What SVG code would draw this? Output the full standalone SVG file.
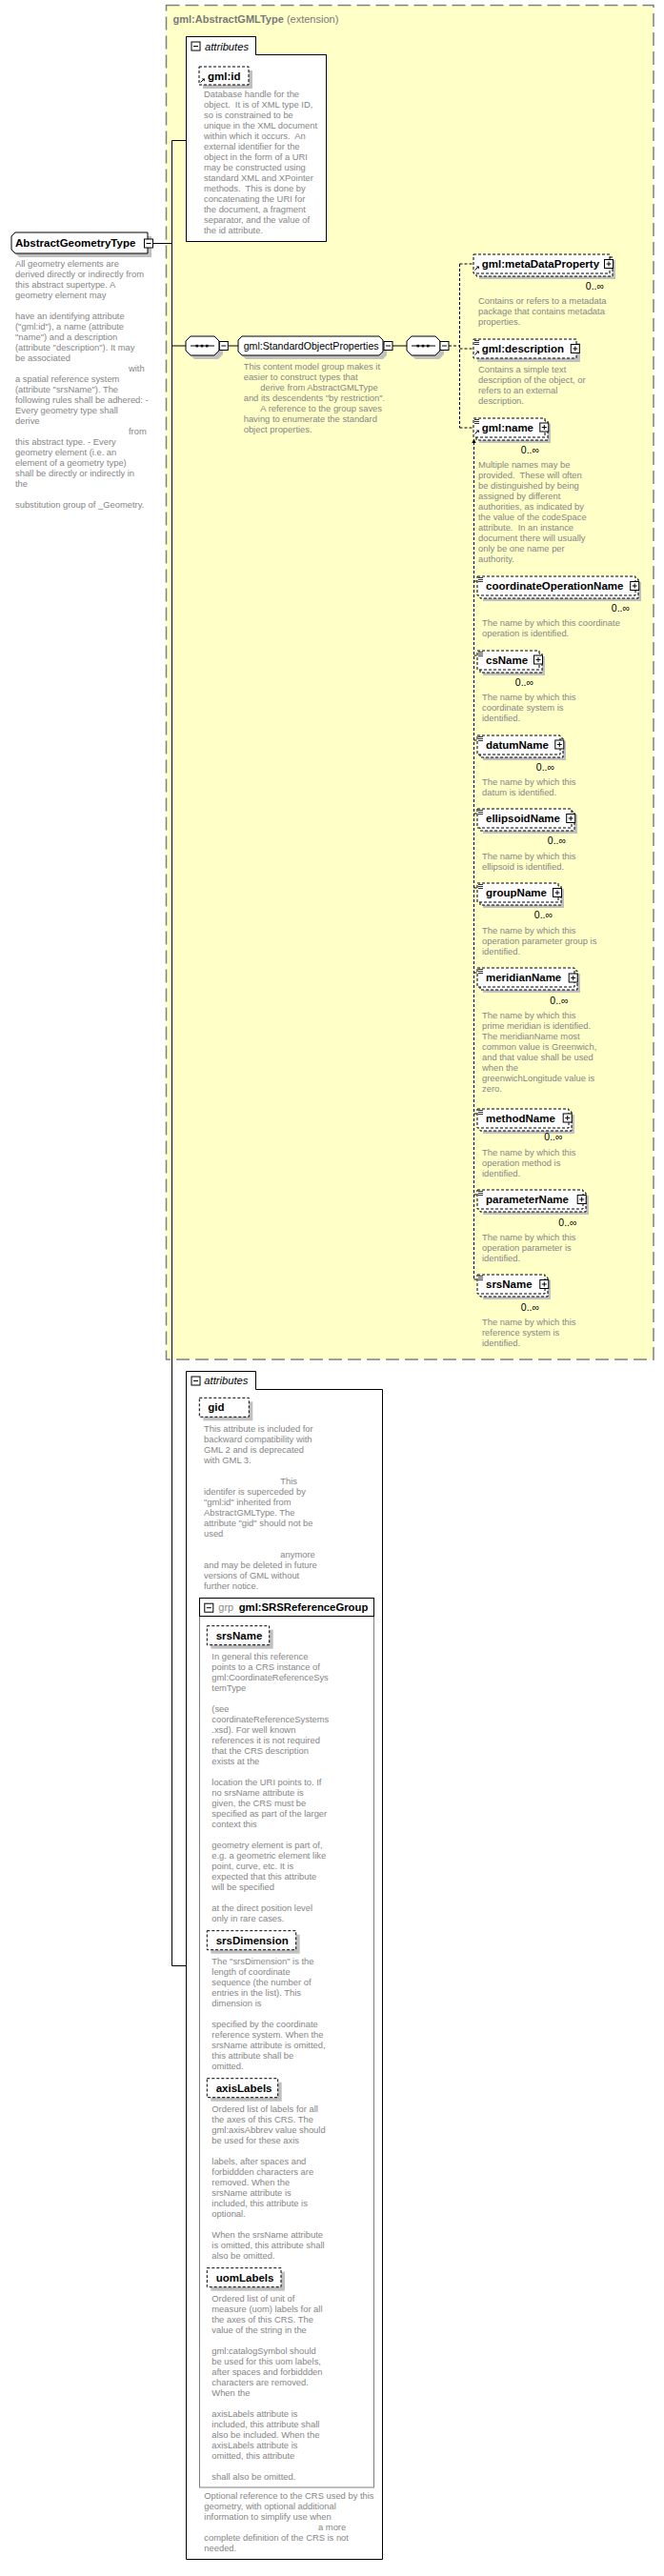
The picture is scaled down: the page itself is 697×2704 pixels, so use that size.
<svg xmlns="http://www.w3.org/2000/svg" xmlns:xlink="http://www.w3.org/1999/xlink" width="697" height="2704" viewBox="0 0 697 2704">
<style>
text{font-family:"Liberation Sans",Arial,sans-serif}
.desc{font-size:9.4px;fill:#868686}
.el{font-size:11.5px;font-weight:bold;fill:#000}
.nm{font-size:10.6px;fill:#000}
.mult{font-size:10.5px;fill:#000}
.hdr{font-size:11px;fill:#7a7a7a}
.it{font-size:11.2px;font-style:italic;fill:#000}
.solid{fill:#fff;stroke:#000;stroke-width:1}
.dash{fill:#fff;stroke:#000;stroke-width:1;stroke-dasharray:3 2}
.sh{fill:#c0c0c0}
.ln{stroke:#000;stroke-width:1;fill:none}
.dln{stroke:#000;stroke-width:1;fill:none;stroke-dasharray:3 2}
.frame{fill:none;stroke:#000;stroke-width:1}
</style>
<defs>
<g id="mn"><rect x="-4.5" y="-4.5" width="9" height="9" fill="#fff" stroke="#000"/><path d="M-2.5,0H2.5" stroke="#000"/></g>
<g id="pl"><rect x="-4.5" y="-4.5" width="9" height="9" fill="#fff" stroke="#000"/><path d="M-2.5,0H2.5M0,-2.5V2.5" stroke="#000"/></g>
<g id="eq"><path d="M0,0.5h5M0,2.5h5M0,4.5h5" stroke="#000" stroke-width="0.8"/></g>
<g id="ar"><path d="M0.5,5.5L3.5,2.5" stroke="#000" stroke-width="1"/><path d="M1.8,1.5H4.8V4.5Z" fill="#000"/></g>
<g id="seq">
<path class="sh" d="M9,4H34L39,9V19L34,24H9L4,19V9Z"/>
<path class="solid" d="M5,0H30L35,5V15L30,20H5L0,15V5Z"/>
<path d="M5,10H30" stroke="#000"/>
<rect x="10.5" y="8.8" width="2.6" height="2.6" fill="#000"/><rect x="15.7" y="8.8" width="2.6" height="2.6" fill="#000"/><rect x="20.9" y="8.8" width="2.6" height="2.6" fill="#000"/>
</g>
</defs>
<rect width="697" height="2704" fill="#fff"/>

<g id="extension-box">
<rect x="174.5" y="5.5" width="511.5" height="1421.5" fill="#FFFFC8" stroke="#808080" stroke-width="1.5" stroke-dasharray="14 6"/>
<text x="181.5" y="23.5" class="hdr"><tspan font-weight="bold">gml:AbstractGMLType</tspan> (extension)</text>
</g>

<g id="connectors">
<path class="ln" d="M161,255.5H180.5M180.5,147.5V2063.5M180.5,147.5H195M180.5,363H195M180.5,2063.5H196M239.5,363H250M412,363H427"/>
<path class="dln" d="M471,363H482.5M482.5,277V449M482.5,277H497M482.5,366H497M482.5,449H497"/>
<path class="dln" d="M497.5,464V1343M497.5,610H501M497.5,688H501M497.5,777H501M497.5,854H501M497.5,932H501M497.5,1021H501M497.5,1169H501M497.5,1254H501M497.5,1343H501"/>
<path d="M497.5,460.5L495.3,465L499.7,465Z" fill="#000"/>
</g>

<g id="AbstractGeometryType">
<path class="sh" d="M20,248H159V270H20L16,266V252Z"/>
<path class="solid" d="M16,244H155V266H16L12,262V248Z"/>
<text x="16" y="259" class="el">AbstractGeometryType</text>
<use xlink:href="#mn" x="156" y="255.5"/>
<text class="desc"><tspan x="16" y="280">All geometry elements are</tspan><tspan x="16" y="291">derived directly or indirectly from</tspan><tspan x="16" y="302">this abstract supertype. A</tspan><tspan x="16" y="313">geometry element may</tspan><tspan x="16" y="335">have an identifying attribute</tspan><tspan x="16" y="346">("gml:id"), a name (attribute</tspan><tspan x="16" y="357">"name") and a description</tspan><tspan x="16" y="368">(attribute "description"). It may</tspan><tspan x="16" y="379">be associated</tspan><tspan x="135" y="390">with</tspan><tspan x="16" y="401">a spatial reference system</tspan><tspan x="16" y="412">(attribute "srsName"). The</tspan><tspan x="16" y="423">following rules shall be adhered: -</tspan><tspan x="16" y="434">Every geometry type shall</tspan><tspan x="16" y="445">derive</tspan><tspan x="135" y="456">from</tspan><tspan x="16" y="467">this abstract type. - Every</tspan><tspan x="16" y="478">geometry element (i.e. an</tspan><tspan x="16" y="489">element of a geometry type)</tspan><tspan x="16" y="500">shall be directly or indirectly in</tspan><tspan x="16" y="511">the</tspan><tspan x="16" y="533">substitution group of _Geometry.</tspan></text>
</g>

<g id="attributes-AbstractGMLType">
<path class="frame" d="M195.5,38.5H268.5V57.5H342.5V253.5H195.5Z" fill="#fff"/>
<path d="M195.5,38.5H268.5V57.5H342.5V253.5H195.5Z" fill="#fff" stroke="#000"/>
<use xlink:href="#mn" x="205.5" y="48.5"/>
<text x="215" y="52.5" class="it">attributes</text>
<rect class="sh" x="213" y="74" width="52" height="19"/>
<rect class="dash" x="209" y="70" width="52" height="19"/>
<use xlink:href="#ar" x="210" y="81"/>
<text x="218" y="83.5" class="el">gml:id</text>
<text class="desc"><tspan x="214" y="102">Database handle for the</tspan><tspan x="214" y="113">object.&#160; It is of XML type ID,</tspan><tspan x="214" y="124">so is constrained to be</tspan><tspan x="214" y="135">unique in the XML document</tspan><tspan x="214" y="146">within which it occurs.&#160; An</tspan><tspan x="214" y="157">external identifier for the</tspan><tspan x="214" y="168">object in the form of a URI</tspan><tspan x="214" y="179">may be constructed using</tspan><tspan x="214" y="190">standard XML and XPointer</tspan><tspan x="214" y="201">methods.&#160; This is done by</tspan><tspan x="214" y="212">concatenating the URI for</tspan><tspan x="214" y="223">the document, a fragment</tspan><tspan x="214" y="234">separator, and the value of</tspan><tspan x="214" y="245">the id attribute.</tspan></text>
</g>

<g id="sequence-1">
<use xlink:href="#seq" x="195" y="353"/>
<use xlink:href="#mn" x="234.8" y="363"/>
</g>

<g id="StandardObjectProperties">
<path class="sh" d="M258,357H402L406,361V373L402,377H258L254,373V361Z"/>
<path class="solid" d="M254,353H398L402,357V369L398,373H254L250,369V357Z"/>
<text x="255.7" y="366.5" class="nm">gml:StandardObjectProperties</text>
<use xlink:href="#mn" x="407.5" y="363"/>
<text class="desc"><tspan x="255.7" y="388">This content model group makes it</tspan><tspan x="255.7" y="399">easier to construct types that</tspan><tspan x="273.3" y="410">derive from AbstractGMLType</tspan><tspan x="255.7" y="421">and its descendents "by restriction".</tspan><tspan x="273.3" y="432">A reference to the group saves</tspan><tspan x="255.7" y="443">having to enumerate the standard</tspan><tspan x="255.7" y="454">object properties.</tspan></text>
</g>

<g id="sequence-2">
<use xlink:href="#seq" x="427" y="353"/>
<use xlink:href="#mn" x="466.5" y="363"/>
</g>

<g id="metaDataProperty">
<rect class="sh" x="503" y="273" width="143" height="20"/>
<rect class="dash" x="500" y="270" width="143" height="20"/>
<rect class="dash" x="497" y="267" width="143" height="20"/>
<use xlink:href="#ar" x="498" y="278"/>
<text x="505.7" y="280.5" class="el">gml:metaDataProperty</text>
<use xlink:href="#pl" x="639" y="277"/>
<text x="634" y="304" class="mult" text-anchor="end">0..∞</text>
<text class="desc"><tspan x="502" y="318.5">Contains or refers to a metadata</tspan><tspan x="502" y="329.5">package that contains metadata</tspan><tspan x="502" y="340.5">properties.</tspan></text>
</g>

<g id="description">
<rect class="sh" x="501" y="360" width="108" height="20"/>
<rect class="dash" x="497" y="356" width="108" height="20"/>
<use xlink:href="#eq" x="498" y="357"/>
<use xlink:href="#ar" x="498" y="367"/>
<text x="505.7" y="369.5" class="el">gml:description</text>
<use xlink:href="#pl" x="603.8" y="366"/>
<text class="desc"><tspan x="502" y="391">Contains a simple text</tspan><tspan x="502" y="402">description of the object, or</tspan><tspan x="502" y="413">refers to an external</tspan><tspan x="502" y="424">description.</tspan></text>
</g>

<g id="name">
<rect class="sh" x="503" y="445" width="75" height="20"/>
<rect class="dash" x="500" y="442" width="75" height="20"/>
<rect class="dash" x="497" y="439" width="75" height="20"/>
<use xlink:href="#eq" x="498" y="440"/>
<use xlink:href="#ar" x="498" y="450"/>
<text x="505.7" y="452.5" class="el">gml:name</text>
<use xlink:href="#pl" x="571.3" y="448.5"/>
<text x="566" y="476" class="mult" text-anchor="end">0..∞</text>
<text class="desc"><tspan x="502" y="491">Multiple names may be</tspan><tspan x="502" y="502">provided.&#160; These will often</tspan><tspan x="502" y="513">be distinguished by being</tspan><tspan x="502" y="524">assigned by different</tspan><tspan x="502" y="535">authorities, as indicated by</tspan><tspan x="502" y="546">the value of the codeSpace</tspan><tspan x="502" y="557">attribute.&#160; In an instance</tspan><tspan x="502" y="568">document there will usually</tspan><tspan x="502" y="579">only be one name per</tspan><tspan x="502" y="590">authority.</tspan></text>
</g>

<g id="coordinateOperationName">
<rect class="sh" x="507" y="611" width="166" height="20"/>
<rect class="dash" x="504" y="608" width="166" height="20"/>
<rect class="dash" x="501" y="605" width="166" height="20"/>
<use xlink:href="#eq" x="502" y="606"/>
<text x="510" y="618.5" class="el">coordinateOperationName</text>
<use xlink:href="#pl" x="666.2" y="615"/>
<text x="661" y="642" class="mult" text-anchor="end">0..∞</text>
<text class="desc"><tspan x="506" y="657">The name by which this coordinate</tspan><tspan x="506" y="668">operation is identified.</tspan></text>
</g>

<g id="csName">
<rect class="sh" x="507" y="689" width="65" height="20"/>
<rect class="dash" x="504" y="686" width="65" height="20"/>
<rect class="dash" x="501" y="683" width="65" height="20"/>
<use xlink:href="#eq" x="502" y="684"/>
<text x="510" y="696.5" class="el">csName</text>
<use xlink:href="#pl" x="565" y="692.5"/>
<text x="560" y="720" class="mult" text-anchor="end">0..∞</text>
<text class="desc"><tspan x="506" y="735">The name by which this</tspan><tspan x="506" y="746">coordinate system is</tspan><tspan x="506" y="757">identified.</tspan></text>
</g>

<g id="datumName">
<rect class="sh" x="507" y="778" width="87" height="20"/>
<rect class="dash" x="504" y="775" width="87" height="20"/>
<rect class="dash" x="501" y="772" width="87" height="20"/>
<use xlink:href="#eq" x="502" y="773"/>
<text x="510" y="785.5" class="el">datumName</text>
<use xlink:href="#pl" x="587.3" y="781.5"/>
<text x="582" y="809" class="mult" text-anchor="end">0..∞</text>
<text class="desc"><tspan x="506" y="823.5">The name by which this</tspan><tspan x="506" y="834.5">datum is identified.</tspan></text>
</g>

<g id="ellipsoidName">
<rect class="sh" x="507" y="855" width="99" height="20"/>
<rect class="dash" x="504" y="852" width="99" height="20"/>
<rect class="dash" x="501" y="849" width="99" height="20"/>
<use xlink:href="#eq" x="502" y="850"/>
<text x="510" y="862.5" class="el">ellipsoidName</text>
<use xlink:href="#pl" x="599.2" y="859"/>
<text x="594" y="886" class="mult" text-anchor="end">0..∞</text>
<text class="desc"><tspan x="506" y="901.5">The name by which this</tspan><tspan x="506" y="912.5">ellipsoid is identified.</tspan></text>
</g>

<g id="groupName">
<rect class="sh" x="507" y="933" width="85" height="20"/>
<rect class="dash" x="504" y="930" width="85" height="20"/>
<rect class="dash" x="501" y="927" width="85" height="20"/>
<use xlink:href="#eq" x="502" y="928"/>
<text x="510" y="940.5" class="el">groupName</text>
<use xlink:href="#pl" x="585" y="937"/>
<text x="580" y="964" class="mult" text-anchor="end">0..∞</text>
<text class="desc"><tspan x="506" y="980">The name by which this</tspan><tspan x="506" y="991">operation parameter group is</tspan><tspan x="506" y="1002">identified.</tspan></text>
</g>

<g id="meridianName">
<rect class="sh" x="507" y="1022" width="102" height="20"/>
<rect class="dash" x="504" y="1019" width="102" height="20"/>
<rect class="dash" x="501" y="1016" width="102" height="20"/>
<use xlink:href="#eq" x="502" y="1017"/>
<text x="510" y="1029.5" class="el">meridianName</text>
<use xlink:href="#pl" x="601.7" y="1026.5"/>
<text x="596.5" y="1053.5" class="mult" text-anchor="end">0..∞</text>
<text class="desc"><tspan x="506" y="1068.5">The name by which this</tspan><tspan x="506" y="1079.5">prime meridian is identified.</tspan><tspan x="506" y="1090.5">The meridianName most</tspan><tspan x="506" y="1101.5">common value is Greenwich,</tspan><tspan x="506" y="1112.5">and that value shall be used</tspan><tspan x="506" y="1123.5">when the</tspan><tspan x="506" y="1134.5">greenwichLongitude value is</tspan><tspan x="506" y="1145.5">zero.</tspan></text>
</g>

<g id="methodName">
<rect class="sh" x="507" y="1170" width="96" height="20"/>
<rect class="dash" x="504" y="1167" width="96" height="20"/>
<rect class="dash" x="501" y="1164" width="96" height="20"/>
<use xlink:href="#eq" x="502" y="1165"/>
<text x="510" y="1177.5" class="el">methodName</text>
<use xlink:href="#pl" x="595.7" y="1173.5"/>
<text x="590.5" y="1197" class="mult" text-anchor="end">0..∞</text>
<text class="desc"><tspan x="506" y="1213">The name by which this</tspan><tspan x="506" y="1224">operation method is</tspan><tspan x="506" y="1235">identified.</tspan></text>
</g>

<g id="parameterName">
<rect class="sh" x="507" y="1255" width="111" height="20"/>
<rect class="dash" x="504" y="1252" width="111" height="20"/>
<rect class="dash" x="501" y="1249" width="111" height="20"/>
<use xlink:href="#eq" x="502" y="1250"/>
<text x="510" y="1262.5" class="el">parameterName</text>
<use xlink:href="#pl" x="610.7" y="1259"/>
<text x="605.5" y="1286.5" class="mult" text-anchor="end">0..∞</text>
<text class="desc"><tspan x="506" y="1301.5">The name by which this</tspan><tspan x="506" y="1312.5">operation parameter is</tspan><tspan x="506" y="1323.5">identified.</tspan></text>
</g>

<g id="srsName-element">
<rect class="sh" x="507" y="1344" width="71" height="20"/>
<rect class="dash" x="504" y="1341" width="71" height="20"/>
<rect class="dash" x="501" y="1338" width="71" height="20"/>
<use xlink:href="#eq" x="502" y="1339"/>
<text x="510" y="1351.5" class="el">srsName</text>
<use xlink:href="#pl" x="571.3" y="1348"/>
<text x="566" y="1375.5" class="mult" text-anchor="end">0..∞</text>
<text class="desc"><tspan x="506" y="1390.5">The name by which this</tspan><tspan x="506" y="1401.5">reference system is</tspan><tspan x="506" y="1412.5">identified.</tspan></text>
</g>

<g id="attributes-AbstractGeometryType">
<path d="M195.5,1439.5H268.5V1458.5H401.5V2686.5H195.5Z" fill="#fff" stroke="#000"/>
<use xlink:href="#mn" x="205.5" y="1449.5"/>
<text x="214.3" y="1453" class="it">attributes</text>
<rect class="sh" x="213.3" y="1471.3" width="52" height="20"/>
<rect class="dash" x="209.3" y="1467.3" width="52" height="20"/>
<text x="218.3" y="1481" class="el">gid</text>
<text class="desc"><tspan x="214" y="1502.5">This attribute is included for</tspan><tspan x="214" y="1513.5">backward compatibility with</tspan><tspan x="214" y="1524.5">GML 2 and is deprecated</tspan><tspan x="214" y="1535.5">with GML 3.</tspan><tspan x="294.3" y="1557.5">This</tspan><tspan x="214" y="1568.5">identifer is superceded by</tspan><tspan x="214" y="1579.5">"gml:id" inherited from</tspan><tspan x="214" y="1590.5">AbstractGMLType. The</tspan><tspan x="214" y="1601.5">attribute "gid" should not be</tspan><tspan x="214" y="1612.5">used</tspan><tspan x="294.3" y="1634.5">anymore</tspan><tspan x="214" y="1645.5">and may be deleted in future</tspan><tspan x="214" y="1656.5">versions of GML without</tspan><tspan x="214" y="1667.5">further notice.</tspan></text>
<text class="desc"><tspan x="214.3" y="2623">Optional reference to the CRS used by this</tspan><tspan x="214.3" y="2634">geometry, with optional additional</tspan><tspan x="214.3" y="2645">information to simplify use when</tspan><tspan x="334" y="2656">a more</tspan><tspan x="214.3" y="2667">complete definition of the CRS is not</tspan><tspan x="214.3" y="2678">needed.</tspan></text>
</g>

<g id="SRSReferenceGroup">
<rect x="209.5" y="1677.5" width="183" height="933.5" fill="#fff" stroke="#808080"/>
<rect x="209.5" y="1677.5" width="183" height="19" fill="#fff" stroke="#000"/>
<use xlink:href="#mn" x="219.3" y="1687.7"/>
<text x="229.3" y="1691" class="hdr" style="fill:#8a8a8a">grp</text>
<text x="250.7" y="1691" class="el" style="font-size:11.3px">gml:SRSReferenceGroup</text>

<g id="attr-srsName">
<rect class="sh" x="221.3" y="1710.7" width="65.4" height="20"/>
<rect class="dash" x="217.3" y="1706.7" width="65.4" height="20"/>
<text x="226.7" y="1720.5" class="el">srsName</text>
<text class="desc"><tspan x="222.3" y="1742">In general this reference</tspan><tspan x="222.3" y="1753">points to a CRS instance of</tspan><tspan x="222.3" y="1764">gml:CoordinateReferenceSys</tspan><tspan x="222.3" y="1775">temType</tspan><tspan x="222.3" y="1797">(see</tspan><tspan x="222.3" y="1808">coordinateReferenceSystems</tspan><tspan x="222.3" y="1819">.xsd). For well known</tspan><tspan x="222.3" y="1830">references it is not required</tspan><tspan x="222.3" y="1841">that the CRS description</tspan><tspan x="222.3" y="1852">exists at the</tspan><tspan x="222.3" y="1874">location the URI points to. If</tspan><tspan x="222.3" y="1885">no srsName attribute is</tspan><tspan x="222.3" y="1896">given, the CRS must be</tspan><tspan x="222.3" y="1907">specified as part of the larger</tspan><tspan x="222.3" y="1918">context this</tspan><tspan x="222.3" y="1940">geometry element is part of,</tspan><tspan x="222.3" y="1951">e.g. a geometric element like</tspan><tspan x="222.3" y="1962">point, curve, etc. It is</tspan><tspan x="222.3" y="1973">expected that this attribute</tspan><tspan x="222.3" y="1984">will be specified</tspan><tspan x="222.3" y="2006">at the direct position level</tspan><tspan x="222.3" y="2017">only in rare cases.</tspan></text>
</g>

<g id="attr-srsDimension">
<rect class="sh" x="221.3" y="2030.7" width="93.4" height="20"/>
<rect class="dash" x="217.3" y="2026.7" width="93.4" height="20"/>
<text x="226.7" y="2040.5" class="el">srsDimension</text>
<text class="desc"><tspan x="222.3" y="2062">The "srsDimension" is the</tspan><tspan x="222.3" y="2073">length of coordinate</tspan><tspan x="222.3" y="2084">sequence (the number of</tspan><tspan x="222.3" y="2095">entries in the list). This</tspan><tspan x="222.3" y="2106">dimension is</tspan><tspan x="222.3" y="2128">specified by the coordinate</tspan><tspan x="222.3" y="2139">reference system. When the</tspan><tspan x="222.3" y="2150">srsName attribute is omitted,</tspan><tspan x="222.3" y="2161">this attribute shall be</tspan><tspan x="222.3" y="2172">omitted.</tspan></text>
</g>

<g id="attr-axisLabels">
<rect class="sh" x="221.3" y="2185.7" width="74.4" height="20"/>
<rect class="dash" x="217.3" y="2181.7" width="74.4" height="20"/>
<text x="226.7" y="2195.5" class="el">axisLabels</text>
<text class="desc"><tspan x="222.3" y="2217">Ordered list of labels for all</tspan><tspan x="222.3" y="2228">the axes of this CRS. The</tspan><tspan x="222.3" y="2239">gml:axisAbbrev value should</tspan><tspan x="222.3" y="2250">be used for these axis</tspan><tspan x="222.3" y="2272">labels, after spaces and</tspan><tspan x="222.3" y="2283">forbiddden characters are</tspan><tspan x="222.3" y="2294">removed. When the</tspan><tspan x="222.3" y="2305">srsName attribute is</tspan><tspan x="222.3" y="2316">included, this attribute is</tspan><tspan x="222.3" y="2327">optional.</tspan><tspan x="222.3" y="2349">When the srsName attribute</tspan><tspan x="222.3" y="2360">is omitted, this attribute shall</tspan><tspan x="222.3" y="2371">also be omitted.</tspan></text>
</g>

<g id="attr-uomLabels">
<rect class="sh" x="221.3" y="2384.7" width="77.7" height="20"/>
<rect class="dash" x="217.3" y="2380.7" width="77.7" height="20"/>
<text x="226.7" y="2394.5" class="el">uomLabels</text>
<text class="desc"><tspan x="222.3" y="2416">Ordered list of unit of</tspan><tspan x="222.3" y="2427">measure (uom) labels for all</tspan><tspan x="222.3" y="2438">the axes of this CRS. The</tspan><tspan x="222.3" y="2449">value of the string in the</tspan><tspan x="222.3" y="2471">gml:catalogSymbol should</tspan><tspan x="222.3" y="2482">be used for this uom labels,</tspan><tspan x="222.3" y="2493">after spaces and forbiddden</tspan><tspan x="222.3" y="2504">characters are removed.</tspan><tspan x="222.3" y="2515">When the</tspan><tspan x="222.3" y="2537">axisLabels attribute is</tspan><tspan x="222.3" y="2548">included, this attribute shall</tspan><tspan x="222.3" y="2559">also be included. When the</tspan><tspan x="222.3" y="2570">axisLabels attribute is</tspan><tspan x="222.3" y="2581">omitted, this attribute</tspan><tspan x="222.3" y="2603">shall also be omitted.</tspan></text>
</g>
</g>
</svg>
